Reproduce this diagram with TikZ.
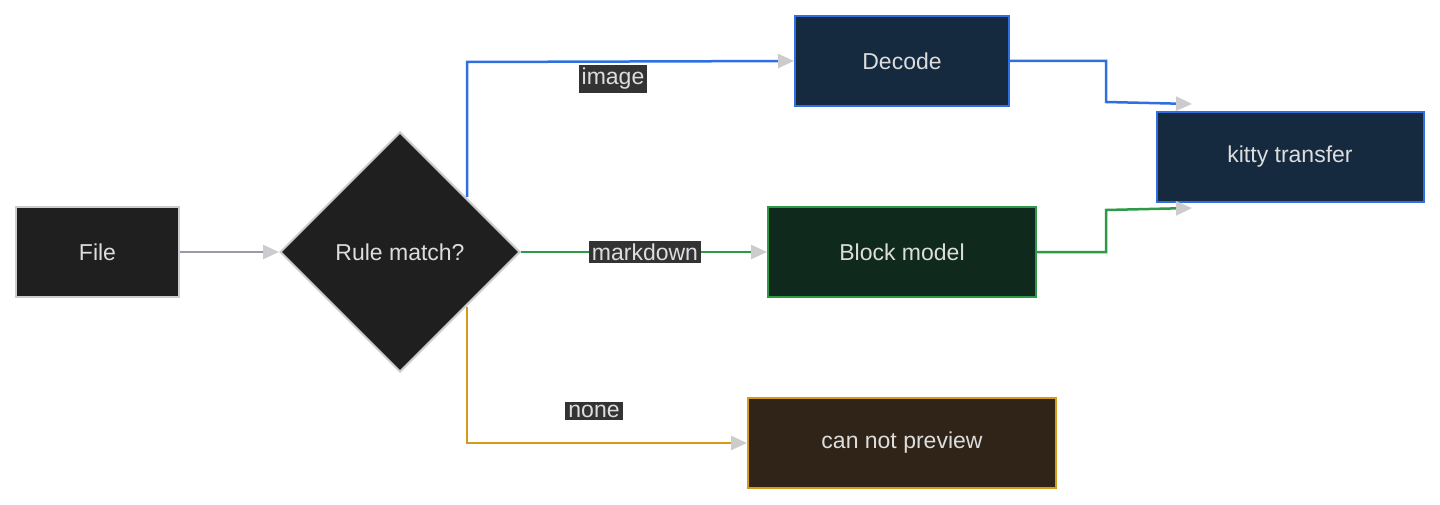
\documentclass[tikz,border=0pt]{standalone}
\usepackage{fontspec}
\setmainfont{Liberation Sans}
\usetikzlibrary{shapes.geometric,arrows.meta}
\definecolor{txt}{HTML}{DDDDDD}
\definecolor{nodebg}{HTML}{1F1F1F}
\definecolor{nodebd}{HTML}{CCCCCC}
\definecolor{bluebd}{HTML}{2F6FE0}
\definecolor{bluebg}{HTML}{152A3F}
\definecolor{greenbd}{HTML}{2E9A48}
\definecolor{greenbg}{HTML}{0F2A1C}
\definecolor{orbd}{HTML}{D49A1C}
\definecolor{orbg}{HTML}{302418}
\definecolor{lblbg}{HTML}{333333}
\definecolor{grayln}{HTML}{9A9AA8}
\definecolor{tip}{HTML}{CCCCCC}
\begin{document}
\begin{tikzpicture}[x=1pt,y=-1pt,
  every node/.style={font=\fontsize{23}{26}\selectfont, text=txt},
  box/.style={draw, line width=2pt, minimum height=90pt, inner sep=0pt},
  lbl/.style={fill=lblbg, inner sep=3pt, font=\fontsize{23}{26}\selectfont},
  con/.style={line width=2.5pt, -{Triangle[length=16pt,width=14pt,fill=tip,color=tip]}}]
\useasboundingbox (0,0) rectangle (1440,505);
\node[box, fill=nodebg, draw=nodebd, minimum width=163pt] (file) at (97.5,252) {File};
\node[diamond, aspect=1, draw=nodebd, fill=nodebg, line width=2pt, minimum width=240pt, minimum height=240pt, inner sep=0pt] (rule) at (400,252) {Rule match?};
\node[box, fill=bluebg, draw=bluebd, minimum width=214pt] (dec) at (902,61) {Decode};
\node[box, fill=bluebg, draw=bluebd, minimum width=267pt] (kit) at (1290,157) {kitty transfer};
\node[box, fill=greenbg, draw=greenbd, minimum width=268pt] (blk) at (902,252) {Block model};
\node[box, fill=orbg, draw=orbd, minimum width=308pt] (cnp) at (902,443) {can not preview};
\coordinate (k1) at (1192,104);
\coordinate (k2) at (1192,208);
\draw[con, grayln] (file) -- (rule.west);
\draw[con, bluebd] (467,197) -- (467,62) -- (dec.west);
\draw[con, greenbd] (rule.east) -- (blk.west);
\draw[con, orbd] (467,307) -- (467,443) -- (cnp.west);
\draw[con, bluebd] (dec.east) -- (1106,61) -- (1106,102) -- (k1);
\draw[con, greenbd] (blk.east) -- (1106,252) -- (1106,210) -- (k2);
\node[lbl] (l1) at (613,79) {image};
\node[lbl] (l2) at (645,252) {markdown};
\node[lbl] (l3) at (594,411) {none};
\end{tikzpicture}
\end{document}
